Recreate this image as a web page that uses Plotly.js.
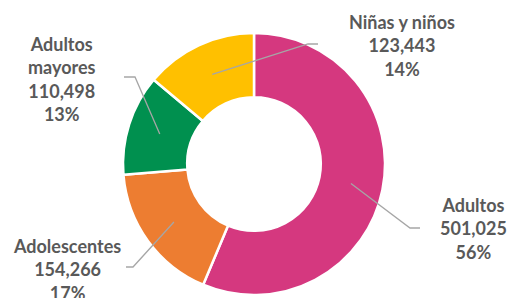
<!DOCTYPE html>
<html><head><meta charset="utf-8">
<script src="https://cdn.plot.ly/plotly-3.0.1.min.js"></script>
<style>html,body{margin:0;padding:0;background:#fff;}#chart{width:510px;height:298px;}</style>
</head><body><div id="chart"></div>
<script>
const categories = ["Adultos", "Adolescentes", "Adultos mayores", "Niñas y niños"];
const values = [501025, 154266, 110498, 123443];
const valueLabels = ["501,025", "154,266", "110,498", "123,443"];
const pctLabels = ["56%", "17%", "13%", "14%"];
const labelLines = ["Adultos", "Adolescentes", "Adultos<br>mayores", "Niñas y niños"];
const colors = ["#D5387F", "#ED7D31", "#00904F", "#FFC000"];

const W = 510, H = 298;
const cx = 254, cy = 164, R = 131, hole = 0.51;
// label layout (pixel positions of label centres and leader-line elbows)
const labelPos = [
  {x: 473, y: 228, elbow: [410, 228], end: [420, 228]},
  {x: 67,  y: 269, elbow: [133, 267], end: [126, 267]},
  {x: 62,  y: 79,  elbow: [135, 77],  end: [124, 77]},
  {x: 402, y: 45,  elbow: [308, 44],  end: [318, 44]}
];

const px = x => x / W, py = y => 1 - y / H;

const total = values.reduce((a, b) => a + b, 0);
let cum = 0;
const shapes = [], annotations = [];
values.forEach((v, i) => {
  const mid = (cum + v / 2) / total * 2 * Math.PI; // clockwise from 12 o'clock
  cum += v;
  const rr = R * (1 + hole) / 2;
  const sx = cx + rr * Math.sin(mid), sy = cy - rr * Math.cos(mid);
  const L = labelPos[i];
  shapes.push({
    type: 'path', xref: 'paper', yref: 'paper',
    path: `M ${px(sx)} ${py(sy)} L ${px(L.elbow[0])} ${py(L.elbow[1])} L ${px(L.end[0])} ${py(L.end[1])}`,
    line: {color: '#A6A6A6', width: 1.3}
  });
  annotations.push({
    xref: 'paper', yref: 'paper', x: px(L.x), y: py(L.y),
    xanchor: 'center', yanchor: 'middle', showarrow: false,
    text: labelLines[i] + '<br>' + valueLabels[i] + '<br>' + pctLabels[i],
    font: {family: 'Lato, sans-serif', size: 18, color: '#595959', weight: 700},
    align: 'center'
  });
});

const data = [{
  type: 'pie', labels: categories, values: values, hole: hole,
  sort: false, direction: 'clockwise', rotation: 0,
  marker: {colors: colors, line: {color: '#FFFFFF', width: 2.5}},
  textinfo: 'none', hoverinfo: 'label+value+percent',
  domain: {x: [px(cx - R), px(cx + R)], y: [py(cy + R), py(cy - R)]},
  showlegend: false
}];

const layout = {
  width: W, height: H, margin: {l: 0, r: 0, t: 0, b: 0},
  paper_bgcolor: '#fff', plot_bgcolor: '#fff',
  showlegend: false, shapes: shapes, annotations: annotations
};
Plotly.newPlot('chart', data, layout, {displayModeBar: false, staticPlot: true});
</script></body></html>
